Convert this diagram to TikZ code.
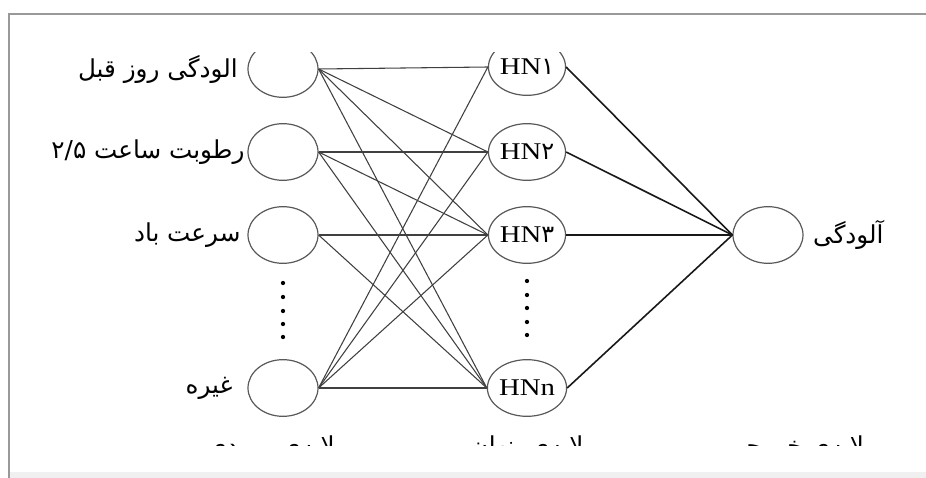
\documentclass[tikz,border=0pt]{standalone}
\usepackage{fontspec}
\setmainfont{Liberation Serif}
\newfontfamily\arabicfont[Script=Arabic]{DejaVu Sans}
\newfontfamily\hnfont[FakeStretch=1.2]{Liberation Serif}
\TeXXeTstate=1
\usetikzlibrary{shapes.geometric}
\tikzset{
  neuron/.style={draw=black!65,line width=0.9pt,ellipse,minimum width=52.5pt,minimum height=42.5pt,inner sep=0pt},
  hidden/.style={neuron,font=\hnfont\fontsize{18}{18}\selectfont},
  lbl/.style={font=\arabicfont\fontsize{18.5}{20}\selectfont,inner sep=1pt},
  link/.style={draw=black!75,line width=0.8pt},
  outlink/.style={draw=black!90,line width=1.2pt}
}
\begin{document}
\begin{tikzpicture}[x=0.75pt,y=-0.75pt]
\useasboundingbox (0,0) rectangle (926,478);
\fill[black!6] (9,472) rectangle (926,478);
\draw[black!40,line width=1.3pt] (9,478) -- (9,14) -- (926,14);
\begin{scope}
\clip (11,53) rectangle (926,445);
\node[neuron] (i1) at (283,69) {};
\node[neuron] (i2) at (283,152) {};
\node[neuron] (i3) at (283,235) {};
\node[neuron] (i4) at (283,388) {};
\node[hidden] (h1) at (527,67) {HN{\arabicfont ۱}};
\node[hidden] (h2) at (527,152) {HN{\arabicfont ۲}};
\node[hidden] (h3) at (527,235) {HN{\arabicfont ۳}};
\node[hidden] (hn) at (527,388) {HNn};
\node[neuron] (out) at (768,235) {};
\foreach \y in {283,297,311,324,337} \fill (283,\y) circle (1.6pt);
\foreach \y in {281,295,308,322,335} \fill (527,\y) circle (1.6pt);
\node[lbl,anchor=east] (t1) at ([xshift=-6pt]i1.west) {\beginR الودگی روز قبل\endR};
\node[lbl,anchor=east] (t2) at ([xshift=-1pt]i2.west) {\beginR رطوبت ساعت \beginL ۲/۵\endL\endR};
\node[lbl,anchor=east] (t3) at ([xshift=-4pt]i3.west) {\beginR سرعت باد\endR};
\node[lbl,anchor=east] (t4) at ([xshift=-10pt]i4.west) {\beginR غیره\endR};
\node[lbl,anchor=west] (tout) at ([xshift=6pt]out.east) {\beginR آلودگی\endR};
\node[lbl,anchor=base] (lin) at (271,454) {\beginR لایه‌ی ورودی\endR};
\node[lbl,anchor=base] (lhid) at (527,454) {\beginR لایه‌ی پنهان\endR};
\node[lbl,anchor=base] (lout) at (795,454) {\beginR لایه‌ی خروجی\endR};
\draw[link] (i1.east) -- (h1.west);
\draw[link] (i1.east) -- (h2.west);
\draw[link] (i1.east) -- (h3.west);
\draw[link] (i1.east) -- (hn.west);
\draw[link] (i2.east) -- (h2.west);
\draw[link] (i2.east) -- (h3.west);
\draw[link] (i2.east) -- (hn.west);
\draw[link] (i3.east) -- (h3.west);
\draw[link] (i3.east) -- (hn.west);
\draw[link] (i4.east) -- (h1.west);
\draw[link] (i4.east) -- (h2.west);
\draw[link] (i4.east) -- (h3.west);
\draw[link] (i4.east) -- (hn.west);
\draw[outlink] (h1.east) -- (out.west);
\draw[outlink] (h2.east) -- (out.west);
\draw[outlink] (h3.east) -- (out.west);
\draw[outlink] (hn.east) -- (out.west);
\end{scope}
\end{tikzpicture}
\end{document}
